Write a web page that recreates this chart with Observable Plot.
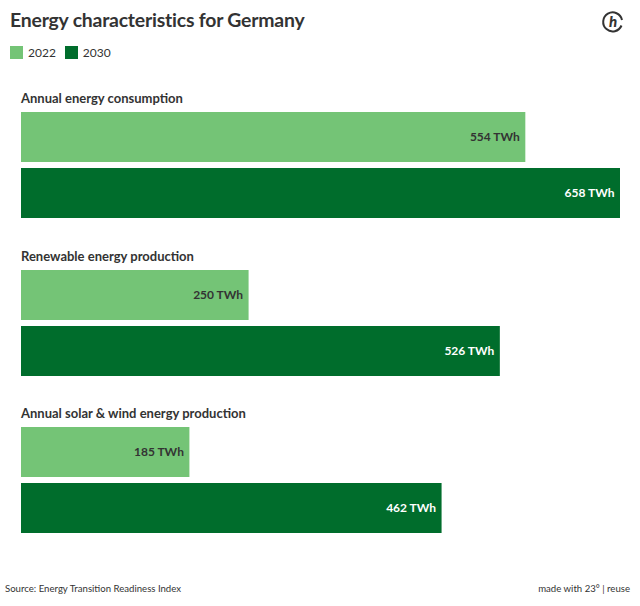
<!DOCTYPE html>
<html>
<head>
<meta charset="utf-8">
<script src="https://cdn.jsdelivr.net/npm/d3@7"></script>
<script src="https://cdn.jsdelivr.net/npm/@observablehq/plot@0.6"></script>
<style>
  html, body { margin: 0; padding: 0; background: #fff; }
  body { width: 640px; height: 606px; position: relative; font-family: Lato, "Open Sans", sans-serif; color: #333; overflow: hidden; }
  #title { position: absolute; left: 10px; top: 8px; font-size: 19.4px; font-weight: 700; color: #333; letter-spacing: -0.2px; }
  #legend { position: absolute; left: 10px; top: 45px; font-size: 12px; display: flex; align-items: center; }
  .sw { display: inline-block; width: 13px; height: 13px; margin-right: 5px; }
  .li { display: flex; align-items: center; margin-right: 9px; }
  #chart { position: absolute; left: 0; top: 88px; width: 640px; }
  .block { margin-bottom: 27.5px; }
  .glabel { font-size: 13px; font-weight: 700; color: #333; line-height: 20px; height: 24px; padding-left: 21px; box-sizing: border-box; }
  #source { position: absolute; left: 5px; top: 583px; font-size: 9.6px; color: #333; }
  #made { position: absolute; right: 10px; top: 583px; font-size: 9.6px; color: #333; }
  #logo { position: absolute; left: 601px; top: 10px; }
  svg { display: block; }
</style>
</head>
<body>
<div id="title">Energy characteristics for Germany</div>
<div id="legend"></div>
<div id="logo">
  <svg width="24" height="24" viewBox="0 0 24 24">
    <path d="M20.5 15.5 A9.5 9.5 0 1 1 21 10" fill="none" stroke="#333" stroke-width="2"/>
    <text x="12" y="17" text-anchor="middle" font-family="Lato, sans-serif" font-weight="900" font-style="italic" font-size="15" fill="#333">h</text>
  </svg>
</div>
<div id="chart"></div>
<div id="source">Source: Energy Transition Readiness Index</div>
<div id="made">made with 23° | reuse</div>
<script>
const categories = ["Annual energy consumption", "Renewable energy production", "Annual solar & wind energy production"];
const years = ["2022", "2030"];
const values2022 = [554, 250, 185];
const values2030 = [658, 526, 462];
const colors = ["#74c476", "#006d2c"];
const labelColors = ["#333333", "#ffffff"];
const unit = "TWh";

const legend = document.getElementById("legend");
years.forEach((y, i) => {
  const item = document.createElement("div");
  item.className = "li";
  item.innerHTML = `<span class="sw" style="background:${colors[i]}"></span><span>${y}</span>`;
  legend.appendChild(item);
});

const xMax = d3.max([...values2022, ...values2030]);
const chart = document.getElementById("chart");

categories.forEach((cat, ci) => {
  const rows = [
    {year: years[0], value: values2022[ci]},
    {year: years[1], value: values2030[ci]}
  ];
  const block = document.createElement("div");
  block.className = "block";
  const lab = document.createElement("div");
  lab.className = "glabel";
  lab.textContent = cat;
  block.appendChild(lab);
  const plot = Plot.plot({
    width: 640,
    height: 106,
    marginLeft: 21,
    marginRight: 20,
    marginTop: 0,
    marginBottom: 0,
    style: {fontFamily: "Lato, sans-serif", background: "transparent"},
    x: {domain: [0, xMax], axis: null},
    y: {domain: years, axis: null, paddingInner: 6 / 56, paddingOuter: 0},
    color: {domain: years, range: colors},
    marks: [
      Plot.barX(rows, {x: "value", y: "year", fill: "year"}),
      Plot.text(rows, {
        x: "value", y: "year",
        text: d => `${d.value} ${unit}`,
        textAnchor: "end", dx: -6,
        fill: d => labelColors[years.indexOf(d.year)],
        fontSize: 12, fontWeight: 700
      })
    ]
  });
  block.appendChild(plot);
  chart.appendChild(block);
});
</script>
</body>
</html>
